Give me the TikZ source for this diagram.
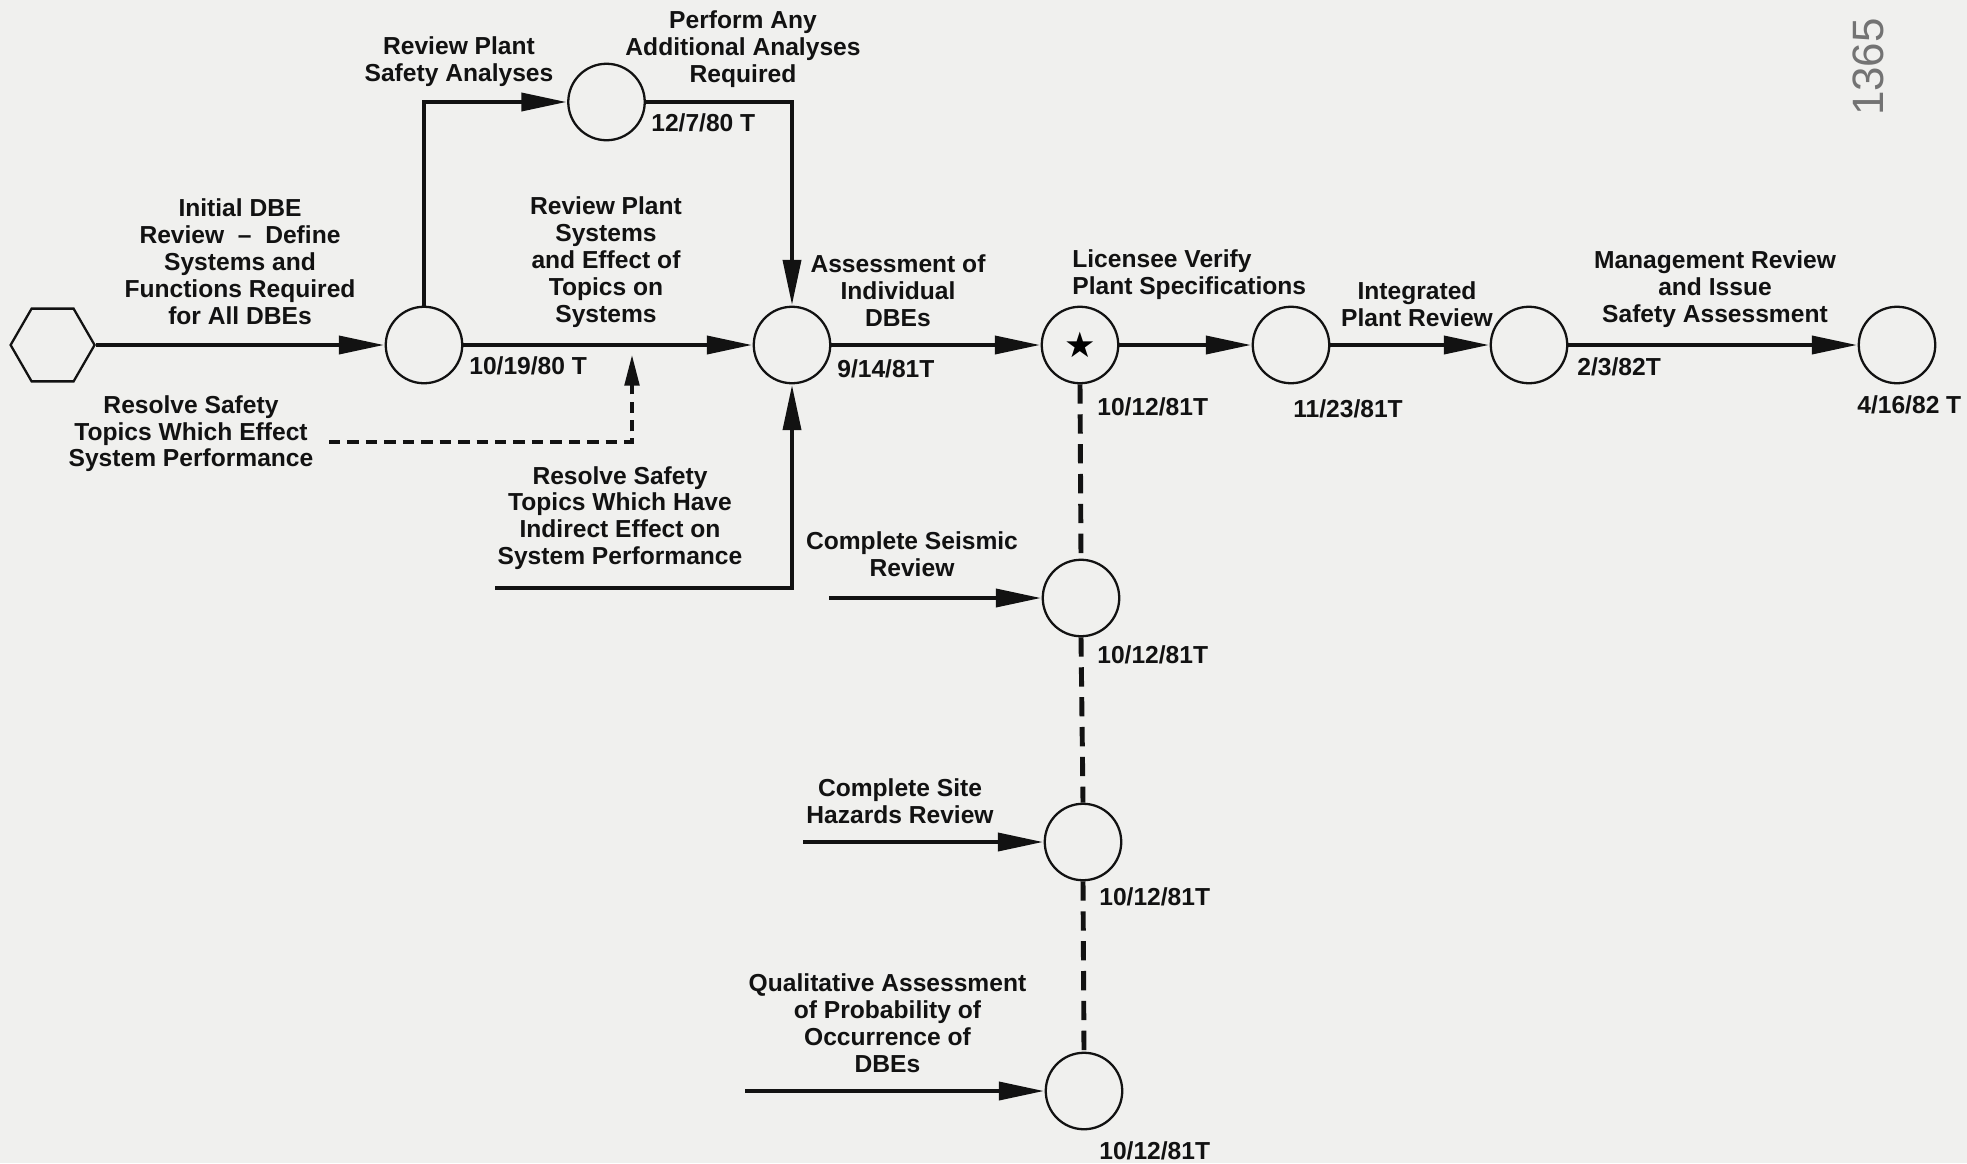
\documentclass[tikz,border=0pt]{standalone}
\usepackage{fontspec}
\setmainfont{Liberation Sans}
\newfontfamily\starfont{DejaVu Sans}
\usetikzlibrary{arrows.meta,shapes.geometric}
\definecolor{bg}{RGB}{240,240,238}
\definecolor{ink}{RGB}{18,18,18}
\begin{document}
\begin{tikzpicture}[x=0.02cm,y=-0.02cm,
  ev/.style={circle,draw=ink,line width=1.3pt,minimum size=1.53cm,inner sep=0pt},
  flow/.style={draw=ink,line width=2.8pt,-{Triangle[length=26pt,width=10pt]}},
  dashflow/.style={draw=ink,line width=2.8pt,dash pattern=on 6.5pt off 4pt,-{Triangle[length=18pt,width=8pt]}},
  vdash/.style={draw=ink,line width=2.8pt,dash pattern=on 11pt off 6pt},
  lbl/.style={align=center,inner sep=0pt,font=\fontsize{14}{15.3}\selectfont\bfseries,text=ink},
  datelbl/.style={anchor=west,inner sep=0pt,font=\fontsize{14}{15.3}\selectfont\bfseries,text=ink}]

\fill[bg] (0,0) rectangle (1967,1163);

% events
\node[regular polygon,regular polygon sides=6,draw=ink,line width=1.3pt,minimum size=1.68cm,inner sep=0pt] (hex) at (52.6,345) {};
\node[ev] (nA) at (424,345) {};
\node[ev] (nB) at (606.5,102) {};
\node[ev] (nC) at (792,345) {};
\node[ev] (nS) at (1080,345) {\starfont\fontsize{20}{20}\selectfont ★};
\node[ev] (nD) at (1291,345) {};
\node[ev] (nE) at (1529,345) {};
\node[ev] (nF) at (1897,345) {};
\node[ev] (nG) at (1081,598) {};
\node[ev] (nH) at (1083,842) {};
\node[ev] (nI) at (1084,1091) {};

% free ends
\coordinate (bl) at (495,588);
\coordinate (dl) at (329,442);
\coordinate (dtip) at (632,354);
\coordinate (gin) at (829,598);
\coordinate (hin) at (803,842);
\coordinate (iin) at (745,1091);

% connectors
\draw[flow] (hex.east) -- (nA);
\draw[flow] (nA.north) |- (nB);
\draw[flow] (nB) -| (nC);
\draw[flow] (nA) -- (nC);
\draw[flow] (bl) -| (nC);
\draw[dashflow] (dl) -| (dtip);
\draw[flow] (nC) -- (nS);
\draw[flow] (nS) -- (nD);
\draw[flow] (nD) -- (nE);
\draw[flow] (nE) -- (nF);
\draw[vdash] (nS.south) -- (nG.north);
\draw[vdash] (nG.south) -- (nH.north);
\draw[vdash] (nH.south) -- (nI.north);
\draw[flow] (gin) -- (nG);
\draw[flow] (hin) -- (nH);
\draw[flow] (iin) -- (nI);

% dates
\node[datelbl] (d1) at (469,366) {10/19/80 T};
\node[datelbl] (d2) at (651,123) {12/7/80 T};
\node[datelbl] (d3) at (837,369) {9/14/81T};
\node[datelbl] (d4) at (1097,407) {10/12/81T};
\node[datelbl] (d5) at (1293,409) {11/23/81T};
\node[datelbl] (d6) at (1577,367) {2/3/82T};
\node[datelbl] (d7) at (1857,405) {4/16/82 T};
\node[datelbl] (d8) at (1097,655) {10/12/81T};
\node[datelbl] (d9) at (1099,897) {10/12/81T};
\node[datelbl] (d10) at (1099,1151) {10/12/81T};

% activity labels
\node[lbl] (l1) at (240,261.5) {Initial DBE\\Review \ – \ Define\\Systems and\\Functions Required\\for All DBEs};
\node[lbl] (l2) at (459,61.5) {Review Plant\\Safety Analyses};
\node[lbl] (l3) at (743,49) {Perform Any\\Additional Analyses\\Required};
\node[lbl] (l4) at (606,262) {Review Plant\\Systems\\and Effect of\\Topics on\\Systems};
\node[lbl] (l5) at (898,291) {Assessment of\\Individual\\DBEs};
\node[lbl,anchor=west,align=left] (l6) at (1072,275) {Licensee Verify\\Plant Specifications};
\node[lbl] (l7) at (1417,304) {Integrated\\Plant Review};
\node[lbl] (l8) at (1715,289) {Management Review\\and Issue\\Safety Assessment};
\node[lbl] (l9) at (191,433.7) {Resolve Safety\\Topics Which Effect\\System Performance};
\node[lbl] (l10) at (620,518) {Resolve Safety\\Topics Which Have\\Indirect Effect on\\System Performance};
\node[lbl] (l11) at (912,554) {Complete Seismic\\Review};
\node[lbl] (l12) at (900,801) {Complete Site\\Hazards Review};
\node[lbl] (l13) at (887.5,1023) {Qualitative Assessment\\of Probability of\\Occurrence of\\DBEs};

% handwritten page number
\node[rotate=90,inner sep=0pt,text=black!55,font=\fontsize{25}{25}\selectfont] (pnum) at (1868,67) {1365};
\end{tikzpicture}
\end{document}
